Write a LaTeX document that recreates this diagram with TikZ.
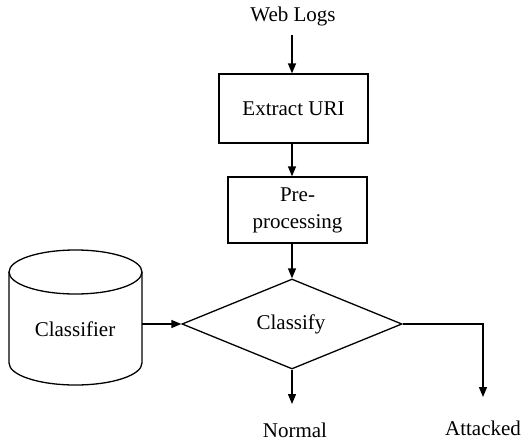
\documentclass[tikz,border=0pt]{standalone}
\usepackage{fontspec}
\setmainfont{Liberation Serif}
\usetikzlibrary{shapes.geometric,arrows.meta}
\begin{document}
\begin{tikzpicture}[x=1pt,y=-1pt,
  every node/.style={font=\fontsize{21}{25}\selectfont},
  line/.style={line width=1.3pt},
  flow/.style={line, -{Triangle[length=10pt,width=8pt]}},
  procbox/.style={draw, line width=1.3pt, rectangle, inner sep=0pt, align=center},
  decision/.style={draw, line width=1.3pt, diamond, inner sep=0pt, minimum width=220pt, minimum height=90pt, aspect=2.44},
  label/.style={inner sep=0pt}
]
\useasboundingbox (0,0) rectangle (524,442);

% text-only start and end points
\node[label] (logs) at (293,16) {Web Logs};
\node[label] (normal) at (295,430) {Normal};
\node[label] (attacked) at (483,428) {Attacked};

% processing steps
\node[procbox, minimum width=149pt, minimum height=69pt] (extract) at (293.5,108.5) {Extract URI};
\node[procbox, minimum width=139pt, minimum height=66pt, font=\fontsize{21}{27}\selectfont] (prep) at (297.5,210) {Pre-\\processing};

% decision
\node[decision] (classify) at (292,324) {};
\node[label] at (291,324) {Classify};

% classifier store drawn as a cylinder
\node[minimum width=133pt, minimum height=135pt, inner sep=0pt] (clf) at (75.5,317.5) {};
\draw[line] (9,272) -- (9,363) arc[start angle=180, end angle=360, x radius=66.5, y radius=-22]
  -- (142,272) arc[start angle=0, end angle=180, x radius=66.5, y radius=-22] -- cycle;
\draw[line] (9,272) arc[start angle=180, end angle=360, x radius=66.5, y radius=-22];
\node[label] at (75,329) {Classifier};

% connectors
\coordinate (logsend) at (292,35);
\coordinate (attackturn) at (483,324);
\coordinate (attackend) at (483,397);
\coordinate (normalend) at (292,404);
\draw[flow] (logsend) -- (extract.north -| logsend);
\draw[flow] (extract.south -| logsend) -- (prep.north -| logsend);
\draw[flow] (prep.south -| logsend) -- (classify.north);
\draw[flow] (classify.west -| clf.east) -- (classify.west);
\draw[flow] (classify.south) -- (normalend);
\draw[flow] (classify.east) -- (attackturn) -- (attackend);
\end{tikzpicture}
\end{document}
